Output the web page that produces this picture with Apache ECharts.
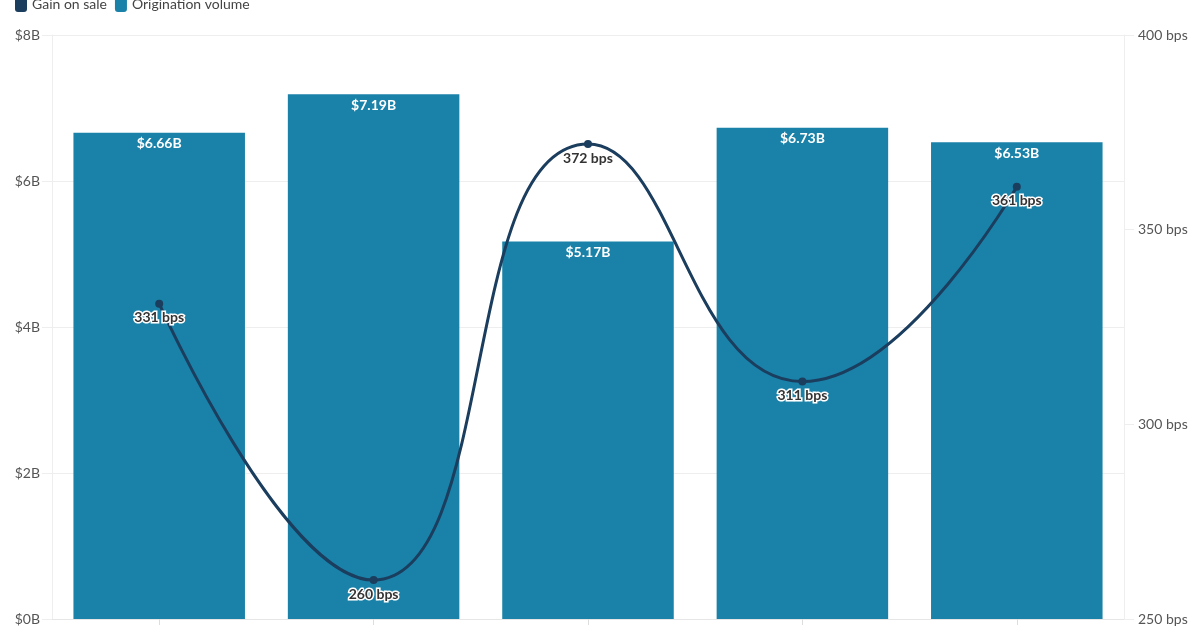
<!DOCTYPE html>
<html><head><meta charset="utf-8">
<script src="https://cdn.jsdelivr.net/npm/echarts@6/dist/echarts.min.js"></script>
<style>html,body{margin:0;padding:0;background:#fff}#c{width:1200px;height:630px}</style>
</head><body><div id="c"></div>
<script>
const categories = ['P1', 'P2', 'P3', 'P4', 'P5'];
const originationVolume = [6.66, 7.19, 5.17, 6.73, 6.53];
const gainOnSale = [331, 260, 372, 311, 361];
const leftTicks = [0, 2, 4, 6, 8];
const rightTicks = [250, 300, 350, 400];

const chart = echarts.init(document.getElementById('c'));
const font = 'Lato, "Open Sans", sans-serif';
chart.setOption({
  animation: false,
  textStyle: { fontFamily: font },
  legend: {
    left: 10, top: -9, itemGap: 8, itemWidth: 12, itemHeight: 16,
    icon: 'roundRect',
    textStyle: { fontSize: 14, color: '#444', fontFamily: font },
    data: ['Gain on sale', 'Origination volume']
  },
  grid: { left: 52, right: 76, top: 35, bottom: 11, containLabel: false },
  xAxis: {
    type: 'category', data: categories,
    axisLine: { show: true, lineStyle: { color: '#e6e6e6' } },
    axisTick: { show: true, alignWithLabel: true, length: 6, lineStyle: { color: '#ddd' } },
    axisLabel: { show: false }
  },
  yAxis: [{
    type: 'value', min: 0, max: 8, interval: 2,
    axisLine: { show: true, lineStyle: { color: '#eeeeee' } },
    axisTick: { show: true, length: 10, lineStyle: { color: '#eeeeee' } },
    splitLine: { lineStyle: { color: '#eeeeee' } },
    axisLabel: { color: '#555', fontSize: 14, margin: 12, fontFamily: font, formatter: v => '$' + v + 'B' }
  }, {
    type: 'value', min: 250, max: 400, interval: 50,
    axisLine: { show: true, lineStyle: { color: '#eeeeee' } },
    axisTick: { show: true, length: 10, lineStyle: { color: '#eeeeee' } },
    splitLine: { show: false },
    axisLabel: { color: '#555', fontSize: 14, margin: 14, fontFamily: font, formatter: v => v + ' bps' }
  }],
  series: [{
    name: 'Origination volume', type: 'bar', yAxisIndex: 0,
    data: originationVolume, barWidth: '80%',
    itemStyle: { color: '#1a82a8' },
    label: { show: true, position: 'insideTop', distance: 4, color: '#fff', fontWeight: 'bold', fontSize: 14, fontFamily: font,
      formatter: p => '$' + p.value.toFixed(2) + 'B' },
    z: 1
  }, {
    name: 'Gain on sale', type: 'line', yAxisIndex: 1,
    data: gainOnSale, smooth: 0.5, symbol: 'circle', symbolSize: 8,
    lineStyle: { color: '#1b3d5e', width: 3 },
    itemStyle: { color: '#1b3d5e' },
    label: { show: true, position: 'bottom', distance: 3, color: '#333', fontWeight: 'bold', fontSize: 14, fontFamily: font,
      textBorderColor: '#fff', textBorderWidth: 3, formatter: p => p.value + ' bps' },
    z: 3
  }]
});
</script></body></html>
